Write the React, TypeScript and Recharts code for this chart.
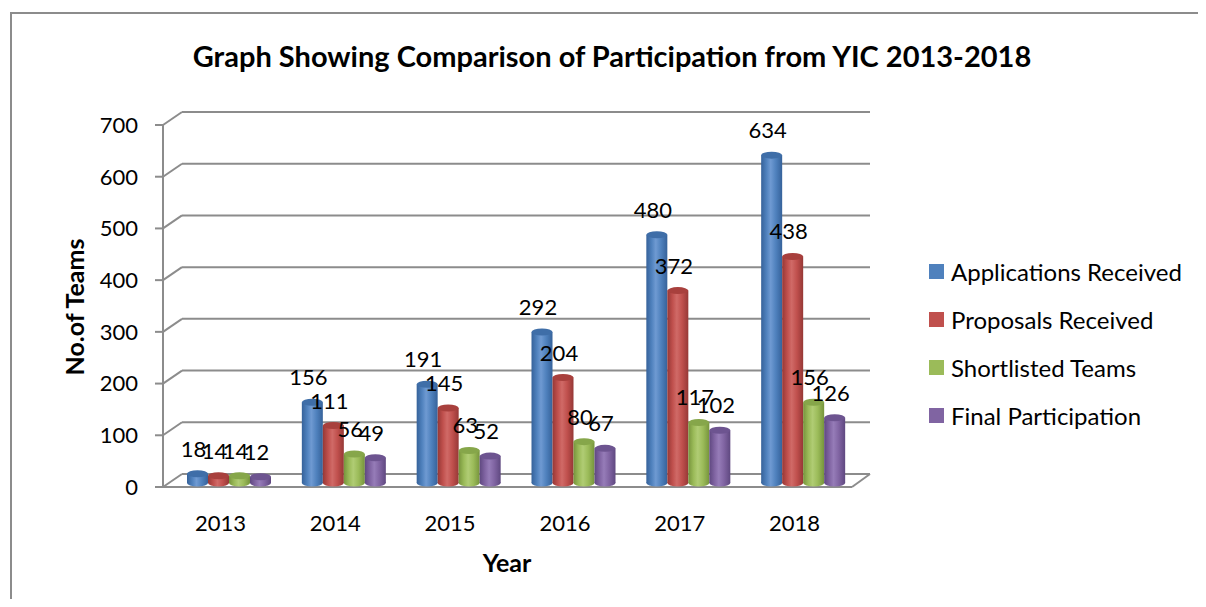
import React from "react";
import { BarChart, Bar, XAxis, YAxis, CartesianGrid, LabelList } from "recharts";

const years = ["2013", "2014", "2015", "2016", "2017", "2018"];
const applications = [18, 156, 191, 292, 480, 634];
const proposals = [14, 111, 145, 204, 372, 438];
const shortlisted = [14, 56, 63, 80, 117, 156];
const finalParticipation = [12, 49, 52, 67, 102, 126];
const yTicks = [0, 100, 200, 300, 400, 500, 600, 700];

const series = [
  { key: "applications", name: "Applications Received", color: "#4f81bd", light: "#6f9ad2", dark: "#36629a", top: "#3f6ea8" },
  { key: "proposals", name: "Proposals Received", color: "#c0504d", light: "#d06a67", dark: "#963836", top: "#a8403d" },
  { key: "shortlisted", name: "Shortlisted Teams", color: "#9bbb59", light: "#b0cc74", dark: "#76943c", top: "#86a64a" },
  { key: "final", name: "Final Participation", color: "#8064a2", light: "#967cb8", dark: "#5f4880", top: "#6d5490" },
];

const data = years.map((year, i) => ({
  year,
  applications: applications[i],
  proposals: proposals[i],
  shortlisted: shortlisted[i],
  final: finalParticipation[i],
}));

const FONT = "Lato, 'Noto Sans', sans-serif";
const GRID = "#8c8c8c";
// depth of the back wall and of the bars (px)
const DX = 19;
const DY = 13;
const BX = 9;
const BY = 4;

function GridLine(props: any) {
  const { x1, x2, y1, index } = props;
  const y = y1;
  const isFloor = Math.abs(y - 479) < 1;
  return (
    <g key={`g-${index}`}>
      <line x1={x1} y1={y} x2={x1 + DX} y2={y - DY} stroke={GRID} strokeWidth={2} />
      <line x1={x1 + DX} y1={y - DY} x2={x2 + DX - 1} y2={y - DY} stroke={GRID} strokeWidth={2} />
      {isFloor && (
        <>
          <line x1={x1} y1={y} x2={x2} y2={y} stroke={GRID} strokeWidth={2} />
          <line x1={x2} y1={y} x2={x2 + DX - 1} y2={y - DY} stroke={GRID} strokeWidth={2} />
        </>
      )}
    </g>
  );
}

function Cylinder(props: any) {
  const { x, y, width, height, s } = props;
  if (width == null || height == null) return null;
  const left = x + BX;
  const top = y - BY;
  const rx = width / 2;
  const ry = 3.5;
  return (
    <g>
      <ellipse cx={left + rx} cy={top + height} rx={rx} ry={ry} fill={`url(#cyl-${s.key})`} />
      <rect x={left} y={top} width={width} height={height} fill={`url(#cyl-${s.key})`} />
      <ellipse cx={left + rx} cy={top} rx={rx} ry={ry} fill={s.top} />
    </g>
  );
}

function ValueLabel(props: any) {
  const { x, y, width, value } = props;
  return (
    <text
      x={x + width / 2 + BX - 4}
      y={y - BY - 17}
      textAnchor="middle"
      fontSize={22}
      fontFamily={FONT}
      fill="#000"
    >
      {value}
    </text>
  );
}

export default function App() {
  return (
    <div style={{ position: "relative", width: 1198, height: 591, overflow: "hidden", fontFamily: FONT }}>
      <div
        style={{
          position: "absolute",
          left: 2,
          top: 4,
          width: 1196,
          height: 587,
          borderTop: "2px solid #8c8c8c",
          borderLeft: "2px solid #8c8c8c",
          boxSizing: "border-box",
        }}
      />
      <div
        style={{
          position: "absolute",
          left: 0,
          width: 1208,
          top: 30,
          textAlign: "center",
          fontWeight: 700,
          fontSize: 29,
          color: "#000",
        }}
      >
        Graph Showing Comparison of Participation from YIC 2013-2018
      </div>
      <div
        style={{
          position: "absolute",
          left: 66,
          top: 299,
          transform: "translate(-50%, -50%) rotate(-90deg)",
          fontWeight: 700,
          fontSize: 25,
          whiteSpace: "nowrap",
        }}
      >
        No.of Teams
      </div>
      <div
        style={{
          position: "absolute",
          left: 499,
          top: 554,
          transform: "translate(-50%, -50%)",
          fontWeight: 700,
          fontSize: 25,
        }}
      >
        Year
      </div>
      <div style={{ position: "absolute", left: 921, top: 239 }}>
        {series.map((s) => (
          <div key={s.key} style={{ display: "flex", alignItems: "center", height: 48 }}>
            <div style={{ width: 15, height: 15, background: s.color, marginRight: 7 }} />
            <span style={{ fontSize: 24, color: "#000", whiteSpace: "nowrap" }}>{s.name}</span>
          </div>
        ))}
      </div>
      <div style={{ position: "absolute", left: 0, top: 0 }}>
        <BarChart
          width={1190}
          height={599}
          data={data}
          margin={{ top: 117, right: 346, bottom: 90, left: 95 }}
          barCategoryGap={15}
          barGap={0}
        >
          <defs>
            {series.map((s) => (
              <linearGradient key={s.key} id={`cyl-${s.key}`} x1="0" y1="0" x2="1" y2="0">
                <stop offset="0%" stopColor={s.dark} />
                <stop offset="25%" stopColor={s.color} />
                <stop offset="45%" stopColor={s.light} />
                <stop offset="70%" stopColor={s.color} />
                <stop offset="100%" stopColor={s.dark} />
              </linearGradient>
            ))}
          </defs>
          <CartesianGrid vertical={false} horizontal={(p: any) => <GridLine {...p} />} />
          <XAxis
            dataKey="year"
            axisLine={false}
            tickLine={false}
            tickSize={0}
            tickMargin={28}
            tick={{ fontSize: 22, fill: "#000", fontFamily: FONT }}
          />
          <YAxis
            domain={[0, 700]}
            ticks={yTicks}
            width={60}
            tickSize={8}
            tickMargin={17}
            axisLine={{ stroke: GRID, strokeWidth: 2 }}
            tickLine={{ stroke: GRID, strokeWidth: 2 }}
            tick={{ fontSize: 22, fill: "#000", fontFamily: FONT }}
          />
          {series.map((s) => (
            <Bar
              key={s.key}
              dataKey={s.key}
              name={s.name}
              fill={s.color}
              isAnimationActive={false}
              shape={(p: any) => <Cylinder {...p} s={s} />}
            >
              <LabelList dataKey={s.key} content={(p: any) => <ValueLabel {...p} />} />
            </Bar>
          ))}
        </BarChart>
      </div>
    </div>
  );
}
